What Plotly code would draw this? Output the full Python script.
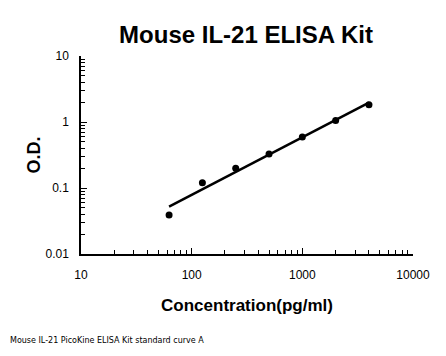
import numpy as np
import plotly.graph_objects as go

conc = [62.5, 125, 250, 500, 1000, 2000, 4000]
od = [0.039, 0.12, 0.20, 0.327, 0.59, 1.05, 1.83]
x_ticks = [10, 100, 1000, 10000]
x_ticktext = ["10", "100", "1000", "10000"]
y_ticks = [0.01, 0.1, 1, 10]
y_ticktext = ["0.01", "0.1", "1", "10"]

# power-law fit (log-log linear regression)
b, a = np.polyfit(np.log10(conc), np.log10(od), 1)
fit_x = [conc[0], conc[-1]]
fit_y = [10 ** (a + b * np.log10(v)) for v in fit_x]

fig = go.Figure()
fig.add_trace(go.Scatter(x=fit_x, y=fit_y, mode="lines",
                         line=dict(color="black", width=2.5), showlegend=False))
fig.add_trace(go.Scatter(x=conc, y=od, mode="markers",
                         marker=dict(color="black", size=7), showlegend=False))

font = "Liberation Sans, Arial, sans-serif"
# page body has an 8px margin, so the figure is offset by 8px
fig.update_layout(
    width=438, height=348,
    margin=dict(l=73, r=33, t=48, b=102),
    paper_bgcolor="white", plot_bgcolor="white",
    font=dict(family=font, color="black", size=12),
    title=dict(text="<b>Mouse IL-21 ELISA Kit</b>", x=(246 - 8) / 438, xanchor="center",
               y=1 - (35 - 8) / 348, yanchor="middle", font=dict(size=24, family=font, color="black")),
)
fig.update_xaxes(type="log", range=[1, 4], tickvals=x_ticks, ticktext=x_ticktext,
                 showline=True, linecolor="black", linewidth=1.5, showgrid=False,
                 zeroline=False, ticks="inside", ticklen=6, tickcolor="black",
                 minor=dict(ticks="inside", ticklen=4, dtick="D1", tickcolor="black", showgrid=False),
                 tickfont=dict(size=12), ticklabelstandoff=9, automargin=False,
                 title=dict(text="<b>Concentration(pg/ml)</b>", font=dict(size=17), standoff=18))
fig.update_yaxes(type="log", range=[-2, 1], tickvals=y_ticks, ticktext=y_ticktext,
                 showline=True, linecolor="black", linewidth=1.5, showgrid=False,
                 zeroline=False, ticks="inside", ticklen=6, tickcolor="black",
                 minor=dict(ticks="inside", ticklen=4, dtick="D1", tickcolor="black", showgrid=False),
                 tickfont=dict(size=12), ticklabelstandoff=8, automargin=False,
                 title=dict(text="<b>O.D.</b>", font=dict(size=18), standoff=0))
fig.add_annotation(text="Mouse IL-21 PicoKine ELISA Kit standard curve A",
                   xref="paper", yref="paper", x=-73 / 332, y=-(340 - 254) / 198,
                   xanchor="left", yanchor="middle", showarrow=False,
                   font=dict(size=8, family="DejaVu Sans, sans-serif"))
fig.write_html("out.html")
